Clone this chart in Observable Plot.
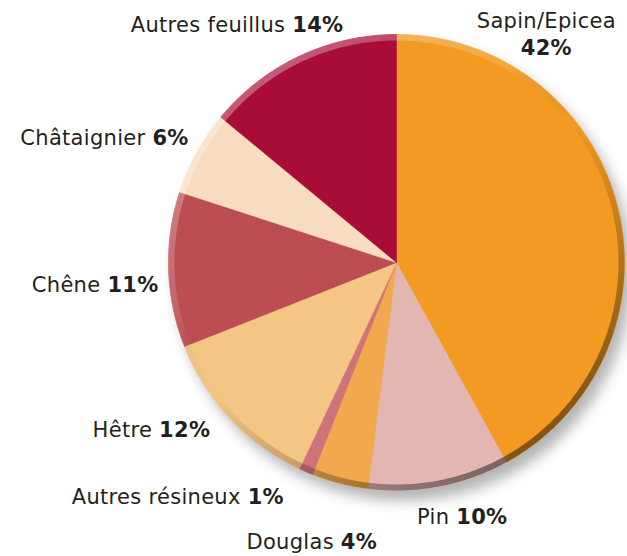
<!DOCTYPE html>
<html><head><meta charset="utf-8">
<script src="https://cdn.jsdelivr.net/npm/d3@7"></script>
<script src="https://cdn.jsdelivr.net/npm/@observablehq/plot@0.6"></script>
<style>body{margin:0;background:#fff}</style>
</head><body><div id="chart"></div>
<script>
// ---- data ----
const names  = ["Sapin/Epicea","Pin","Douglas","Autres résineux","Hêtre","Chêne","Châtaignier","Autres feuillus"];
const shares = [42, 10, 4, 1, 12, 11, 6, 14];
const colors = ["#F29A22","#E4B6B2","#F2A84C","#CE737A","#F5C584","#BB4D53","#F7DCBF","#A90C37"];

// ---- label layout (pixel offsets from the slice's rim midpoint) ----
const labelAnchor = ["middle","middle","middle","end","end","end","end","end"];
const labelDx = [-71, 23, -28, -22, -20, -10, -8, 44];
const labelDy = [-185, 31, 59, 26, 12, 16, -14, -31];
const labelTwoLine = [true, false, false, false, false, false, false, false];

const R = 228; // pixel radius, used for layout
const slices = d3.pie().sort(null).value(d => d)(shares).map((p, i) => ({
  name: names[i], share: shares[i], color: colors[i], a0: p.startAngle, a1: p.endAngle, i
}));

function arcPoints(a0, a1, r) {
  const n = Math.max(2, Math.ceil((a1 - a0) / (Math.PI / 360)));
  return d3.range(n + 1).map(k => {
    const a = a0 + (a1 - a0) * k / n;
    return {x: r * Math.sin(a), y: r * Math.cos(a)};
  });
}
const wedgePts = slices.flatMap(s =>
  [{x: 0, y: 0}, ...arcPoints(s.a0, s.a1, 1), {x: 0, y: 0}].map(p => ({...p, name: s.name, color: s.color}))
);
const disc = arcPoints(0, 2 * Math.PI, 1);
const rimR = 1 - 3 / R;
const rim = arcPoints(0, 2 * Math.PI, rimR);

const labelMarks = slices.map((s, i) => {
  const m = (s.a0 + s.a1) / 2;
  return Plot.text([s], {
    x: () => Math.sin(m), y: () => Math.cos(m),
    text: d => d.name + "|" + d.share + "%|" + (labelTwoLine[i] ? "2" : "1"),
    textAnchor: labelAnchor[i], dx: labelDx[i], dy: labelDy[i],
    fontSize: 21, fill: "#231f20", ariaDescription: "label"
  });
});

const svg = Plot.plot({
  width: 627, height: 556,
  marginLeft: 396 - R, marginRight: 627 - 396 - R,
  marginTop: 262 - R, marginBottom: 556 - 262 - R,
  x: {domain: [-1, 1], axis: null},
  y: {domain: [-1, 1], axis: null},
  color: {type: "identity"},
  style: {fontFamily: "DejaVu Sans", background: "#fff", overflow: "visible"},
  marks: [
    Plot.line(disc, {x: "x", y: "y", fill: "#000", fillOpacity: 0.3, stroke: "none", dx: 7, dy: 10, ariaDescription: "shadow"}),
    Plot.line(wedgePts, {x: "x", y: "y", z: "name", fill: "color", stroke: "color", strokeWidth: 0.6, curve: "linear"}),
    Plot.line(rim, {x: "x", y: "y", stroke: "#000", strokeWidth: 6, fill: "none", ariaDescription: "rim"}),
    ...labelMarks
  ]
});

// defs: shadow blur + bevel gradient
const s = d3.select(svg);
const defs = s.insert("defs", ":first-child");
defs.append("filter").attr("id", "blur").attr("x", "-20%").attr("y", "-20%").attr("width", "140%").attr("height", "140%")
  .append("feGaussianBlur").attr("stdDeviation", 7);
const g = defs.append("linearGradient").attr("id", "bevel").attr("x1", 0).attr("y1", 0).attr("x2", 0.75).attr("y2", 1);
[[0, "#fff", 0.45], [0.4, "#fff", 0.12], [0.55, "#000", 0], [0.75, "#000", 0.2], [1, "#000", 0.5]].forEach(([o, c, op]) =>
  g.append("stop").attr("offset", o).attr("stop-color", c).attr("stop-opacity", op));
s.selectAll('[aria-description="shadow"]').attr("filter", "url(#blur)");
s.selectAll('[aria-description="rim"] path').attr("stroke", "url(#bevel)");

s.selectAll('[aria-description="label"] text').each(function () {
  const [name, pct, mode] = this.textContent.split("|");
  const t = d3.select(this);
  const x = this.getAttribute("x") || 0;
  t.text(null).attr("letter-spacing", 0.3);
  t.append("tspan").text(mode === "2" ? name : name + "\u00a0");
  const b = t.append("tspan").attr("font-weight", "bold").text(pct);
  if (mode === "2") b.attr("x", x).attr("dy", "1.33em");
});

document.getElementById("chart").append(svg);
</script>
</body></html>
